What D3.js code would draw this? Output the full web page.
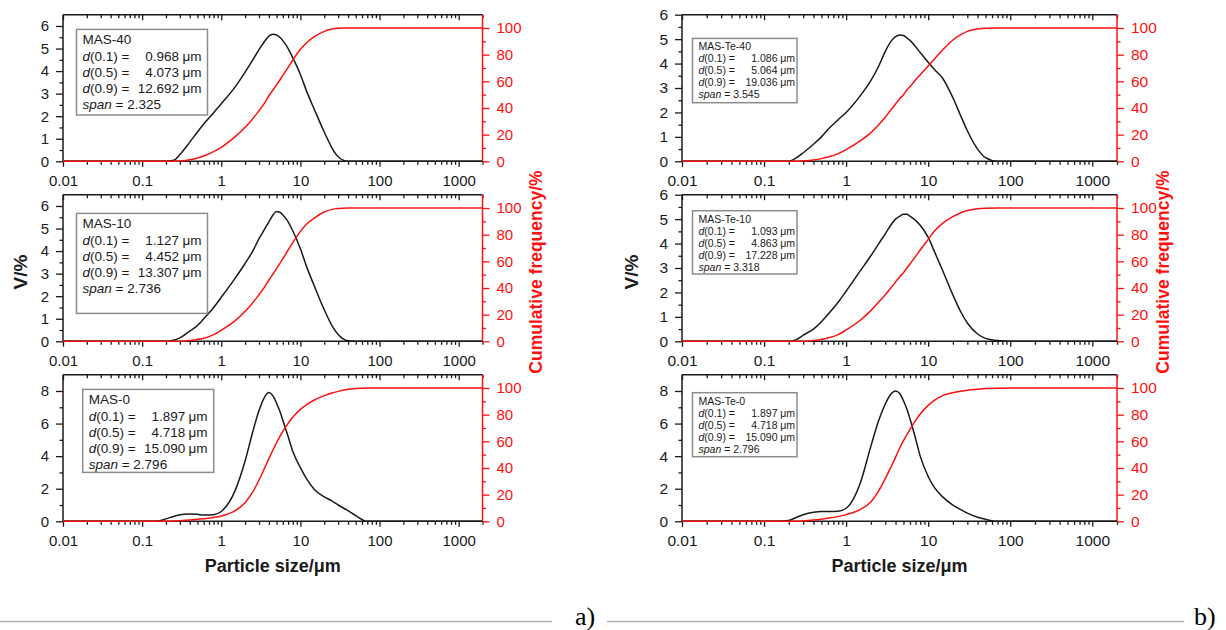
<!DOCTYPE html>
<html>
<head>
<meta charset="utf-8">
<script src="https://cdn.jsdelivr.net/npm/d3@7"></script>
<style>
  body { margin: 0; background: #fff; }
  svg { font-family: "Liberation Sans", Arial, sans-serif; }
</style>
</head>
<body>
<div id="graph_draw"></div>
<script>
// particle size grid (um), shared by every curve
var sizes = [0.01, 0.1, 0.15, 0.2, 0.25, 0.3, 0.4, 0.5, 0.6, 0.8, 1, 1.5, 2, 2.5, 3, 3.5, 4, 4.5, 5, 5.5, 6, 7, 8, 10, 12, 15, 20, 25, 30, 40, 50, 70, 100, 200, 2000];

// V/% (black) and cumulative frequency/% (red)
var mas40Vol = [0, 0, 0, 0, 0.05, 0.3, 0.85, 1.3, 1.65, 2.15, 2.55, 3.3, 3.95, 4.5, 4.95, 5.3, 5.55, 5.63, 5.6, 5.5, 5.35, 5.0, 4.6, 3.85, 3.1, 2.3, 1.3, 0.6, 0.2, 0, 0, 0, 0, 0, 0];
var mas40Cum = [0, 0, 0, 0, 0, 0.3, 1.2, 2.5, 4, 7.3, 10.5, 18.5, 25.5, 32, 38, 43.5, 49.2, 53.5, 57.5, 61, 64.5, 70.5, 76, 84, 89, 93.5, 97.5, 99.2, 99.8, 100, 100, 100, 100, 100, 100];

var mas10Vol = [0, 0, 0, 0, 0.05, 0.15, 0.45, 0.7, 1.0, 1.5, 1.95, 2.8, 3.45, 4.0, 4.55, 4.95, 5.3, 5.6, 5.75, 5.72, 5.6, 5.3, 4.9, 4.1, 3.3, 2.45, 1.4, 0.7, 0.3, 0.02, 0, 0, 0, 0, 0];
var mas10Cum = [0, 0, 0, 0, 0, 0.1, 0.6, 1.3, 2.3, 5, 8.3, 15.5, 22.5, 29, 35, 40.5, 46, 50.5, 54.5, 58.5, 62, 68.5, 74, 82.5, 88, 92.5, 97, 99, 99.7, 100, 100, 100, 100, 100, 100];

var mas0Vol = [0, 0, 0, 0.15, 0.3, 0.4, 0.45, 0.43, 0.38, 0.4, 0.6, 1.9, 3.7, 5.5, 6.8, 7.6, 7.9, 7.7, 7.25, 6.75, 6.2, 5.2, 4.3, 3.3, 2.6, 1.95, 1.5, 1.25, 1.0, 0.65, 0.35, 0, 0, 0, 0];
var mas0Cum = [0, 0, 0, 0.05, 0.2, 0.4, 0.9, 1.5, 2, 2.9, 4, 8, 14, 22, 31, 39.5, 47, 53.5, 59, 63.5, 67.5, 73.5, 78, 84, 87.5, 91, 94.3, 96.3, 97.5, 99, 99.6, 100, 100, 100, 100];

var te40Vol = [0, 0, 0, 0, 0.15, 0.35, 0.7, 1.0, 1.3, 1.7, 2.0, 2.7, 3.3, 3.9, 4.5, 4.9, 5.1, 5.17, 5.15, 5.05, 4.95, 4.7, 4.45, 4.05, 3.75, 3.4, 2.6, 1.85, 1.25, 0.5, 0.15, 0, 0, 0, 0];
var te40Cum = [0, 0, 0, 0, 0.05, 0.3, 1, 2, 3.2, 5.8, 8.8, 15.5, 21.5, 27.5, 33, 38.5, 43, 47, 50, 53.5, 56, 61, 65, 71.5, 77, 83.5, 91, 95, 97.5, 99.3, 99.8, 100, 100, 100, 100];

var te10Vol = [0, 0, 0, 0, 0.08, 0.25, 0.5, 0.8, 1.1, 1.6, 2.05, 2.9, 3.5, 4.0, 4.4, 4.75, 5.0, 5.12, 5.2, 5.2, 5.12, 4.95, 4.75, 4.25, 3.65, 2.9, 1.9, 1.2, 0.75, 0.3, 0.12, 0.03, 0, 0, 0];
var te10Cum = [0, 0, 0, 0, 0, 0.1, 0.6, 1.4, 2.4, 5, 8.5, 16, 23, 29.5, 35, 40, 44.5, 48.5, 51.5, 55, 58, 63.5, 68.5, 76.5, 83, 88.5, 93.5, 96.5, 98.2, 99.4, 99.8, 100, 100, 100, 100];

var te0Vol = [0, 0, 0, 0.05, 0.25, 0.4, 0.55, 0.6, 0.6, 0.62, 0.8, 2.4, 4.6, 6.2, 7.2, 7.8, 8.0, 7.85, 7.4, 6.9, 6.3, 5.1, 4.0, 2.75, 2.05, 1.5, 1.0, 0.72, 0.5, 0.25, 0.12, 0, 0, 0, 0];
var te0Cum = [0, 0, 0, 0, 0.1, 0.3, 0.9, 1.6, 2.3, 3.5, 5, 9, 14.5, 23, 32, 40.5, 48, 55, 60.5, 65, 69, 75.5, 80.5, 87, 91, 94.3, 96.5, 97.6, 98.3, 99.1, 99.6, 99.9, 100, 100, 100];

// legend texts
var sampleNames = ["MAS-40", "MAS-10", "MAS-0", "MAS-Te-40", "MAS-Te-10", "MAS-Te-0"];
var d01 = ["0.968", "1.127", "1.897", "1.086", "1.093", "1.897"];
var d05 = ["4.073", "4.452", "4.718", "5.064", "4.863", "4.718"];
var d09 = ["12.692", "13.307", "15.090", "19.036", "17.228", "15.090"];
var spans = ["2.325", "2.736", "2.796", "3.545", "3.318", "2.796"];

var xTickLabels = [0.01, 0.1, 1, 10, 100, 1000];
var cumTicks = [0, 20, 40, 60, 80, 100];

// layout
var cols = [
  {x0: 63, x1: 482.5, fs: 15, box: {w: 131, fs: 13.5, lh: 16.2, base: 15, num: 102.5}},
  {x0: 682, x1: 1117, fs: 15.5, box: {w: 104.5, fs: 10.5, lh: 12, base: 12, num: 85}}
];
var rowTop = [14.7, 194.7, 374.7], plotH = 146.6;

var panels = [
  {col: 0, row: 0, i: 0, vol: mas40Vol, cum: mas40Cum, vMax: 6.5, vMajor: 1, vMinor: 0.5, boxY: 29.4, boxH: 85.6, boxDx: 13.5},
  {col: 0, row: 1, i: 1, vol: mas10Vol, cum: mas10Cum, vMax: 6.5, vMajor: 1, vMinor: 0.5, boxY: 213.4, boxH: 100, boxDx: 13.5},
  {col: 0, row: 2, i: 2, vol: mas0Vol, cum: mas0Cum, vMax: 9, vMajor: 2, vMinor: 1, boxY: 389.4, boxH: 83, boxDx: 19.7},
  {col: 1, row: 0, i: 3, vol: te40Vol, cum: te40Cum, vMax: 6, vMajor: 1, vMinor: 0.5, boxY: 38.4, boxH: 64.3, boxDx: 10.5},
  {col: 1, row: 1, i: 4, vol: te10Vol, cum: te10Cum, vMax: 6, vMajor: 1, vMinor: 0.5, boxY: 210.7, boxH: 63.3, boxDx: 10.5},
  {col: 1, row: 2, i: 5, vol: te0Vol, cum: te0Cum, vMax: 9, vMajor: 2, vMinor: 1, boxY: 392.7, boxH: 64, boxDx: 10.5}
];

var RED = "#ff1010", INK = "#1a1a1a";

var svg = d3.select("#graph_draw").append("svg")
  .attr("width", 1226)
  .attr("height", 630);

// minor ticks of a log axis 2..9 x each decade
var xAll = [];
for (var e = -2; e <= 3; e++) {
  for (var m = 1; m <= 9; m++) {
    var v = m * Math.pow(10, e);
    if (v <= 2000) xAll.push(+v.toPrecision(3));
  }
}

panels.forEach(function(p) {
  var c = cols[p.col];
  var top = rowTop[p.row], bottom = top + plotH;

  var x = d3.scaleLog().domain([0.01, 2000]).range([c.x0, c.x1]);
  var yV = d3.scaleLinear().domain([0, p.vMax]).range([bottom, top]);
  var yC = d3.scaleLinear().domain([0, 110]).range([bottom, top]);

  var g = svg.append("g");

  // top frame with inward ticks
  var topAx = g.append("g")
    .attr("transform", "translate(0," + top + ")")
    .call(d3.axisBottom(x).tickValues(xAll).tickSize(5).tickFormat(""));
  // bottom axis
  var botAx = g.append("g")
    .attr("transform", "translate(0," + bottom + ")")
    .call(d3.axisBottom(x).tickValues(xAll).tickSize(5).tickPadding(9)
      .tickFormat(function(d) { return xTickLabels.indexOf(d) >= 0 ? String(d) : ""; }));
  [topAx, botAx].forEach(function(ax) {
    ax.selectAll(".tick line")
      .attr("y2", function(d) { return xTickLabels.indexOf(d) >= 0 ? 5.5 : 3.5; });
  });
  botAx.selectAll("text").attr("font-size", c.fs).attr("fill", INK);

  // left V/% axis
  var vTicks = d3.range(0, p.vMax - 1e-9, p.vMinor);
  if (p.vMax % p.vMajor === 0) vTicks.push(p.vMax);
  var isMajor = function(d) { return Math.abs(d / p.vMajor - Math.round(d / p.vMajor)) < 1e-6; };
  var leftAx = g.append("g")
    .attr("transform", "translate(" + c.x0 + ",0)")
    .call(d3.axisLeft(yV).tickValues(vTicks).tickSize(7).tickPadding(7)
      .tickFormat(function(d) { return isMajor(d) ? d : ""; }));
  leftAx.selectAll(".tick line").attr("x2", function(d) { return isMajor(d) ? -7 : -3.5; });
  leftAx.selectAll("text").attr("font-size", c.fs).attr("fill", INK);

  // right cumulative axis
  var rightAx = g.append("g")
    .attr("transform", "translate(" + c.x1 + ",0)")
    .call(d3.axisRight(yC).tickValues(d3.range(0, 101, 10)).tickSize(7).tickPadding(7)
      .tickFormat(function(d) { return cumTicks.indexOf(d) >= 0 ? d : ""; }));
  rightAx.selectAll(".tick line").attr("x2", function(d) { return cumTicks.indexOf(d) >= 0 ? 7 : 3.5; });
  rightAx.selectAll("text").attr("font-size", c.fs).attr("fill", RED);

  g.selectAll(".domain").attr("stroke", INK).attr("stroke-width", 1.5);
  g.selectAll(".tick line").attr("stroke", INK).attr("stroke-width", 1.3);
  rightAx.select(".domain").attr("stroke", RED);
  rightAx.selectAll(".tick line").attr("stroke", RED);
  topAx.select(".domain").attr("d", "M" + c.x0 + ",0H" + c.x1);
  botAx.select(".domain").attr("d", "M" + c.x0 + ",0H" + c.x1);
  leftAx.select(".domain").attr("d", "M0," + top + "V" + bottom);
  rightAx.select(".domain").attr("d", "M0," + top + "V" + bottom);

  // curves
  var pts = sizes.map(function(s, k) { return {s: s, v: p.vol[k], c: p.cum[k]}; });
  var volLine = d3.line().curve(d3.curveMonotoneX)
    .x(function(d) { return x(d.s); })
    .y(function(d) { return yV(d.v); });
  var cumLine = d3.line().curve(d3.curveMonotoneX)
    .x(function(d) { return x(d.s); })
    .y(function(d) { return yC(d.c); });

  g.append("path").datum(pts).attr("d", volLine)
    .attr("fill", "none").attr("stroke", INK).attr("stroke-width", 1.5);
  g.append("path").datum(pts).attr("d", cumLine)
    .attr("fill", "none").attr("stroke", RED).attr("stroke-width", 1.5);

  // legend box
  var b = c.box;
  var bx = c.x0 + p.boxDx;
  var box = g.append("g");
  box.append("rect")
    .attr("x", bx).attr("y", p.boxY)
    .attr("width", b.w).attr("height", p.boxH)
    .attr("fill", "#fff").attr("stroke", "#8c8c8c").attr("stroke-width", 1.5);
  var tx = bx + 6;
  var ty = p.boxY + b.base;
  box.append("text").attr("x", tx).attr("y", ty)
    .attr("font-size", b.fs).attr("fill", INK).text(sampleNames[p.i]);
  [["0.1", d01], ["0.5", d05], ["0.9", d09]].forEach(function(r, k) {
    var yy = ty + b.lh * (k + 1);
    var t = box.append("text").attr("x", tx).attr("y", yy)
      .attr("font-size", b.fs).attr("fill", INK);
    t.append("tspan").attr("font-style", "italic").text("d");
    t.append("tspan").text("(" + r[0] + ") =");
    box.append("text").attr("x", bx + b.num).attr("y", yy)
      .attr("font-size", b.fs).attr("fill", INK)
      .attr("text-anchor", "end").text(r[1][p.i]);
    box.append("text").attr("x", bx + b.num + b.fs * 0.25).attr("y", yy)
      .attr("font-size", b.fs).attr("fill", INK).text("\u03bcm");
  });
  var st = box.append("text").attr("x", tx).attr("y", ty + b.lh * 4)
    .attr("font-size", b.fs).attr("fill", INK);
  st.append("tspan").attr("font-style", "italic").text("span");
  st.append("tspan").text(" = " + spans[p.i]);
});

// axis titles
cols.forEach(function(c, k) {
  var mid = (c.x0 + c.x1) / 2;
  svg.append("text")
    .attr("transform", "translate(" + (k === 0 ? 27 : 638) + ",272) rotate(-90)")
    .attr("text-anchor", "middle").attr("font-weight", "bold")
    .attr("font-size", 19).attr("fill", INK).text("V/%");
  svg.append("text")
    .attr("transform", "translate(" + (k === 0 ? 542 : 1169) + ",272) rotate(-90)")
    .attr("text-anchor", "middle").attr("font-weight", "bold")
    .attr("font-size", 17.5).attr("fill", RED).text("Cumulative frequency/%");
  svg.append("text")
    .attr("x", mid).attr("y", 572)
    .attr("text-anchor", "middle").attr("font-weight", "bold")
    .attr("font-size", 18).attr("fill", INK).text("Particle size/\u03bcm");
});

// bottom separators and panel letters
svg.append("line").attr("x1", 0).attr("x2", 552).attr("y1", 621.5).attr("y2", 621.5)
  .attr("stroke", "#b5b5b5").attr("stroke-width", 1.5);
svg.append("line").attr("x1", 607).attr("x2", 1184).attr("y1", 621.5).attr("y2", 621.5)
  .attr("stroke", "#b5b5b5").attr("stroke-width", 1.5);
svg.append("text").attr("x", 575).attr("y", 625)
  .attr("font-family", "Liberation Serif, Times New Roman, serif")
  .attr("font-size", 26).attr("fill", "#000").text("a)");
svg.append("text").attr("x", 1194).attr("y", 625)
  .attr("font-family", "Liberation Serif, Times New Roman, serif")
  .attr("font-size", 26).attr("fill", "#000").text("b)");
</script>
</body>
</html>
